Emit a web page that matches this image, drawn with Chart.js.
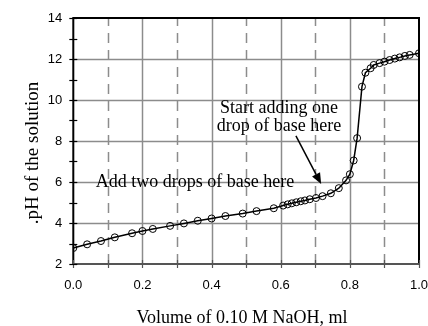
<!DOCTYPE html>
<html>
<head>
<meta charset="utf-8">
<script src="https://cdn.jsdelivr.net/npm/chart.js@4"></script>
<style>
html,body{margin:0;padding:0;background:#fff;}
#wrap{width:428px;height:326px;position:relative;}
</style>
</head>
<body>
<div id="wrap"><canvas id="c" width="428" height="326"></canvas></div>
<script>
const volumes = [0.000,0.040,0.080,0.120,0.170,0.200,0.230,0.280,0.320,0.360,0.400,0.440,0.490,0.530,0.580,0.607,0.620,0.632,0.645,0.658,0.670,0.684,0.702,0.721,0.745,0.768,0.789,0.800,0.811,0.821,0.835,0.845,0.860,0.869,0.886,0.900,0.915,0.930,0.944,0.959,0.973,1.000];
const pHValues = [2.78,2.96,3.12,3.30,3.50,3.61,3.71,3.86,3.98,4.11,4.22,4.34,4.46,4.58,4.72,4.85,4.91,4.96,5.01,5.06,5.10,5.16,5.22,5.31,5.45,5.70,6.08,6.38,7.05,8.14,10.65,11.33,11.55,11.71,11.80,11.87,11.95,12.02,12.08,12.15,12.20,12.28];
const xTickLabels = ["0.0","0.2","0.4","0.6","0.8","1.0"];
const yTickLabels = ["2","4","6","8","10","12","14"];
const xTitle = "Volume of 0.10 M NaOH, ml";
const yTitle = ".pH of the solution";
const note1 = ["Start adding one","drop of base here"];
const note2 = "Add two drops of base here";

const points = volumes.map((v,i)=>({x:v,y:pHValues[i]}));

const decor = {
  id:'decor',
  beforeDatasetsDraw(chart){
    const {ctx, chartArea:a, scales:{x,y}} = chart;
    ctx.save();
    ctx.strokeStyle = '#8c8c8c';
    ctx.lineWidth = 1.5;
    ctx.setLineDash([10,7]);
    for (let v=0.1; v<1; v+=0.2){
      const px = Math.round(x.getPixelForValue(v))+0.5;
      ctx.beginPath(); ctx.moveTo(px,a.bottom); ctx.lineTo(px,a.top); ctx.stroke();
    }
    ctx.setLineDash([]);
    for (let v=0.2; v<0.99; v+=0.2){
      const px = Math.round(x.getPixelForValue(v))+0.5;
      ctx.beginPath(); ctx.moveTo(px,a.top); ctx.lineTo(px,a.bottom); ctx.stroke();
    }
    for (let v=4; v<14; v+=2){
      const py = Math.round(y.getPixelForValue(v))+0.5;
      ctx.beginPath(); ctx.moveTo(a.left,py); ctx.lineTo(a.right,py); ctx.stroke();
    }
    ctx.strokeStyle = '#000';
    ctx.lineWidth = 2;
    ctx.strokeRect(a.left, a.top, a.right-a.left, a.bottom-a.top);
    ctx.strokeStyle = '#555';
    ctx.beginPath(); ctx.moveTo(a.left,a.bottom); ctx.lineTo(a.right,a.bottom); ctx.stroke();
    ctx.lineWidth = 1.2;
    ctx.strokeStyle = '#555';
    for (let v=0; v<=1.0001; v+=0.1){
      const px = Math.round(x.getPixelForValue(v))+0.5;
      ctx.beginPath(); ctx.moveTo(px,a.bottom-4); ctx.lineTo(px,a.bottom+4); ctx.stroke();
    }
    ctx.strokeStyle = '#000';
    for (let v=2; v<=14; v+=1){
      const py = Math.round(y.getPixelForValue(v))+0.5;
      ctx.beginPath(); ctx.moveTo(a.left-4,py); ctx.lineTo(a.left+4,py); ctx.stroke();
    }
    ctx.restore();
  },
  afterDatasetsDraw(chart){
    const {ctx, scales:{x,y}} = chart;
    ctx.save();
    ctx.fillStyle = '#000';
    ctx.font = '18px "Liberation Serif", "Times New Roman", serif';
    ctx.textAlign = 'center';
    ctx.textBaseline = 'alphabetic';
    const cx1 = x.getPixelForValue(0.595);
    ctx.fillText(note1[0], cx1, y.getPixelForValue(9.37));
    ctx.fillText(note1[1], cx1, y.getPixelForValue(8.50));
    ctx.fillText(note2, x.getPixelForValue(0.352), y.getPixelForValue(5.77));
    const x0 = x.getPixelForValue(0.644), y0 = y.getPixelForValue(8.25);
    const x1 = x.getPixelForValue(0.717), y1 = y.getPixelForValue(5.90);
    const ang = Math.atan2(y1-y0, x1-x0);
    const hl = 11, hw = 4.5;
    const bx = x1 - hl*Math.cos(ang), by = y1 - hl*Math.sin(ang);
    ctx.strokeStyle = '#000'; ctx.lineWidth = 1.5;
    ctx.beginPath(); ctx.moveTo(x0,y0); ctx.lineTo(bx,by); ctx.stroke();
    ctx.beginPath();
    ctx.moveTo(x1,y1);
    ctx.lineTo(bx + hw*Math.sin(ang), by - hw*Math.cos(ang));
    ctx.lineTo(bx - hw*Math.sin(ang), by + hw*Math.cos(ang));
    ctx.closePath(); ctx.fill();
    ctx.font = '18px "Liberation Serif", "Times New Roman", serif';
    ctx.textBaseline = 'middle';
    ctx.fillText(xTitle, 242, 318);
    ctx.font = '19px "Liberation Serif", "Times New Roman", serif';
    ctx.translate(33, 153);
    ctx.rotate(-Math.PI/2);
    ctx.fillText(yTitle, 0, 0);
    ctx.restore();
  }
};

new Chart(document.getElementById('c'), {
  type:'scatter',
  data:{datasets:[{
    data:points,
    showLine:true,
    borderColor:'#000',
    borderWidth:1.5,
    tension:0,
    pointRadius:3.5,
    pointBorderWidth:1,
    pointBorderColor:'#000',
    pointBackgroundColor:'rgba(0,0,0,0)',
    pointHoverRadius:3.5
  }]},
  options:{
    responsive:false,
    animation:false,
    events:[],
    layout:{padding:{top:18,right:9,left:0,bottom:0}},
    plugins:{legend:{display:false},tooltip:{enabled:false}},
    scales:{
      x:{
        type:'linear', min:0, max:1,
        afterFit(s){ s.height = 62; s.paddingLeft = 0; s.paddingRight = 0; },
        grid:{display:false, drawTicks:false}, border:{display:false},
        ticks:{stepSize:0.2, padding:14, color:'#000',
          font:{family:'"Liberation Sans", Arial, sans-serif', size:13},
          maxRotation:0,
          callback:(v)=>{const i=Math.round(v/0.2); return Math.abs(v-i*0.2)<1e-6 ? xTickLabels[i] : '';}}
      },
      y:{
        type:'linear', min:2, max:14,
        afterFit(s){ s.width = 73.3; s.paddingTop = 0; s.paddingBottom = 0; },
        grid:{display:false, drawTicks:false}, border:{display:false},
        ticks:{stepSize:2, padding:11, color:'#000',
          font:{family:'"Liberation Sans", Arial, sans-serif', size:13},
          callback:(v)=>{const i=Math.round((v-2)/2); return yTickLabels[i] ?? '';}}
      }
    }
  },
  plugins:[decor]
});
</script>
</body>
</html>
